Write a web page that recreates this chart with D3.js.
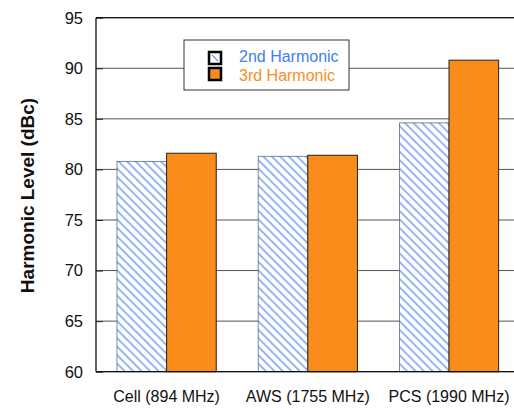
<!DOCTYPE html>
<head>
    <script src="https://d3js.org/d3.v7.min.js"></script>
    <title>Harmonic Level</title>
    <style>
        body { margin: 0; background: white; }
        text { font-family: "Liberation Sans", Arial, sans-serif; }
    </style>
</head>
<body>
<svg width="514" height="408" class="chart" style="background-color: white"></svg>
<script>
    // data
    const bands = ["Cell (894 MHz)", "AWS (1755 MHz)", "PCS (1990 MHz)"];
    const seriesNames = ["2nd Harmonic", "3rd Harmonic"];
    const second = [80.8, 81.3, 84.6];
    const third = [81.6, 81.4, 90.8];
    const yTicks = [60, 65, 70, 75, 80, 85, 90, 95];

    const margin = {top: 17.7, left: 96, bottom: 371.7},
        plotRight = 96 + 3 * 141.2;

    const svg = d3.select(".chart");

    // hatch pattern for the 2nd harmonic
    const defs = svg.append("defs");
    defs.append("pattern")
        .attr("id", "hatch")
        .attr("patternUnits", "userSpaceOnUse")
        .attr("width", 6)
        .attr("height", 6)
        .attr("patternTransform", "rotate(-45)")
        .call(p => {
            p.append("rect").attr("width", 6).attr("height", 6).attr("fill", "white");
            p.append("line").attr("x1", 1).attr("x2", 1).attr("y1", 0).attr("y2", 6)
                .attr("stroke", "#5f8ff2").attr("stroke-width", 1.3);
        });

    const x0 = d3.scaleBand()
        .domain(bands)
        .range([margin.left, plotRight])
        .paddingInner(0.297)
        .paddingOuter(0.1485);
    const x1 = d3.scaleBand()
        .domain(seriesNames)
        .range([0, x0.bandwidth()]);
    const y = d3.scaleLinear()
        .domain([60, 95])
        .range([margin.bottom, margin.top]);

    // gridlines
    svg.append("g")
        .selectAll("line")
        .data(yTicks)
        .enter()
        .append("line")
        .attr("x1", margin.left)
        .attr("x2", plotRight)
        .attr("y1", d => y(d))
        .attr("y2", d => y(d))
        .attr("stroke", "#555")
        .attr("stroke-width", 1);

    // y axis: inward ticks, labels on the left
    const yAxis = svg.append("g")
        .attr("transform", "translate(" + margin.left + ",0)")
        .call(d3.axisRight(y).tickValues(yTicks).tickSize(7).tickFormat(""));
    yAxis.select(".domain").remove();
    yAxis.selectAll("line").attr("stroke", "#222");

    svg.append("g")
        .selectAll("text")
        .data(yTicks)
        .enter()
        .append("text")
        .attr("x", 83)
        .attr("y", d => y(d))
        .attr("dy", "0.36em")
        .attr("text-anchor", "end")
        .style("font-size", "16.5px")
        .attr("fill", "#111")
        .text(d => d);

    // bars
    const rows = bands.map((b, i) => ({band: b, values: [second[i], third[i]]}));
    const groups = svg.append("g")
        .selectAll("g")
        .data(rows)
        .enter()
        .append("g")
        .attr("transform", d => "translate(" + x0(d.band) + ",0)");

    groups.selectAll("rect")
        .data(d => d.values.map((v, j) => ({name: seriesNames[j], value: v})))
        .enter()
        .append("rect")
        .attr("x", d => x1(d.name))
        .attr("width", x1.bandwidth())
        .attr("y", d => y(d.value))
        .attr("height", d => y(60) - y(d.value))
        .attr("fill", d => d.name === seriesNames[0] ? "url(#hatch)" : "#fa8c1c")
        .attr("stroke", d => d.name === seriesNames[0] ? "#4a5878" : "#222")
        .attr("stroke-width", d => d.name === seriesNames[0] ? 0.7 : 1);

    // frame
    svg.append("line").attr("x1", margin.left).attr("x2", margin.left)
        .attr("y1", margin.top).attr("y2", margin.bottom).attr("stroke", "#111").attr("stroke-width", 1.3);
    svg.append("line").attr("x1", margin.left).attr("x2", plotRight)
        .attr("y1", margin.bottom).attr("y2", margin.bottom).attr("stroke", "#111").attr("stroke-width", 1.3);
    svg.append("line").attr("x1", margin.left).attr("x2", plotRight)
        .attr("y1", margin.top).attr("y2", margin.top).attr("stroke", "#111").attr("stroke-width", 1.3);

    // category labels
    svg.append("g")
        .selectAll("text")
        .data(bands)
        .enter()
        .append("text")
        .attr("x", d => x0(d) + x0.bandwidth() / 2)
        .attr("y", 402)
        .attr("text-anchor", "middle")
        .style("font-size", "16px")
        .attr("fill", "#111")
        .text(d => d);

    // y axis title
    svg.append("text")
        .attr("transform", "translate(34,195.5) rotate(-90)")
        .attr("text-anchor", "middle")
        .style("font-size", "19px")
        .style("font-weight", "bold")
        .attr("fill", "#111")
        .text("Harmonic Level (dBc)");

    // legend
    const legend = svg.append("g");
    legend.append("rect")
        .attr("x", 184).attr("y", 40).attr("width", 165).attr("height", 50)
        .attr("fill", "white").attr("stroke", "#333").attr("stroke-width", 1);
    const legendColors = ["#3f7ef5", "#f98e1d"];
    seriesNames.forEach(function(name, i) {
        const sy = 51 + i * 16;
        const sw = legend.append("g");
        sw.append("rect")
            .attr("x", 209).attr("y", sy + 1).attr("width", 12).attr("height", 12)
            .attr("fill", i === 0 ? "white" : "#fa8c1c")
            .attr("stroke", "black").attr("stroke-width", 2.5);
        if (i === 0) {
            sw.append("line")
                .attr("x1", 212).attr("y1", sy + 4).attr("x2", 218).attr("y2", sy + 10)
                .attr("stroke", "#6e9bf4").attr("stroke-width", 1.2);
        }
        legend.append("text")
            .attr("x", 239)
            .attr("y", 62 + i * 18.5)
            .style("font-size", "16px")
            .attr("fill", legendColors[i])
            .text(name);
    });
</script>
</body>
